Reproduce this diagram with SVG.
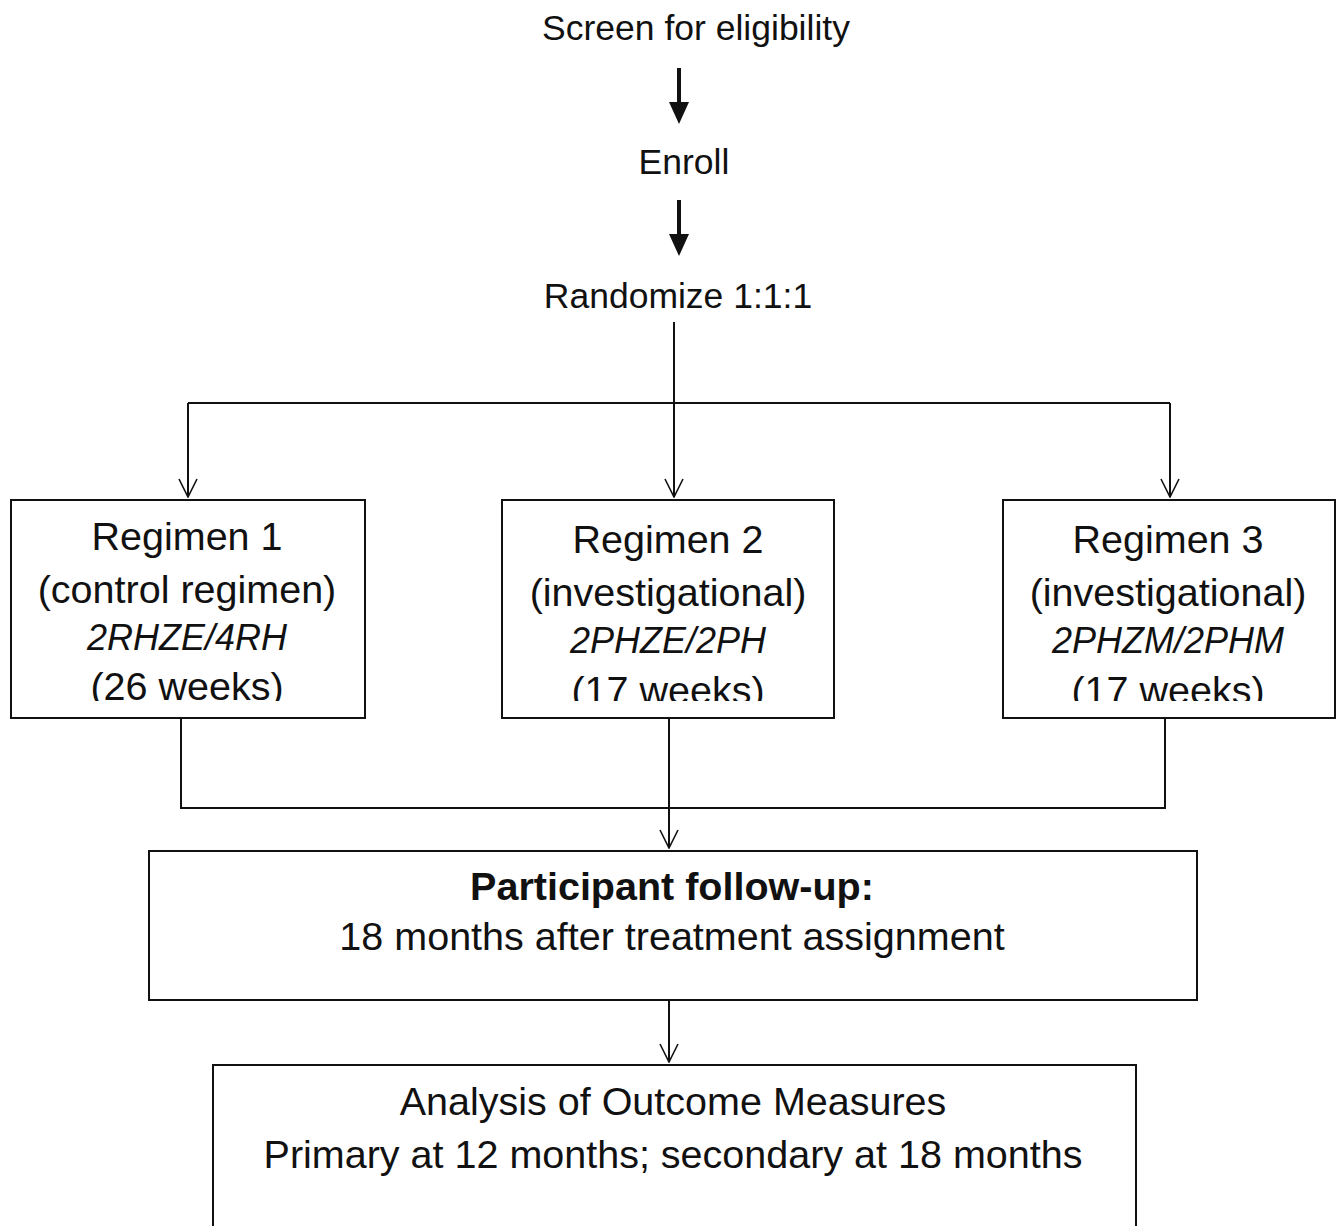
<svg xmlns="http://www.w3.org/2000/svg" width="1342" height="1226" viewBox="0 0 1342 1226">
<style>
text{font-family:"Liberation Sans",Arial,sans-serif;fill:#111;text-anchor:middle}
.t{font-size:35.5px}
.b{font-size:39.5px}
.i{font-style:italic;font-size:36px}
.f{font-size:39.5px}
.bold{font-weight:bold}
.box{fill:#fff;stroke:#111;stroke-width:2}
.ln{fill:none;stroke:#111;stroke-width:2}
.thick{fill:none;stroke:#111;stroke-width:4}
</style>
<defs>
<marker id="v" viewBox="0 0 20 20" refX="19" refY="10" markerWidth="20" markerHeight="20" markerUnits="userSpaceOnUse" orient="auto">
<path d="M1,1 L19,10 L1,19" fill="none" stroke="#111" stroke-width="1.6"/>
</marker>
<clipPath id="c"><rect x="0" y="0" width="1342" height="701"/></clipPath>
</defs>
<g id="connectors">
<path class="thick" d="M679,68 V104" />
<path d="M669,102 L689,102 L679,124 Z" fill="#111"/>
<path class="thick" d="M679,200 V236" />
<path d="M669,234 L689,234 L679,256 Z" fill="#111"/>
<path class="ln" d="M674,322 V497" marker-end="url(#v)"/>
<path class="ln" d="M188,403 H1170"/>
<path class="ln" d="M188,403 V497" marker-end="url(#v)"/>
<path class="ln" d="M1170,403 V497" marker-end="url(#v)"/>
<path class="ln" d="M181,718 V808 H1165 V718"/>
<path class="ln" d="M669,718 V848" marker-end="url(#v)"/>
<path class="ln" d="M669,1000 V1062" marker-end="url(#v)"/>
</g>
<g id="screen"><text class="t" x="696" y="40">Screen for eligibility</text></g>
<g id="enroll"><text class="t" x="684" y="174">Enroll</text></g>
<g id="randomize"><text class="t" x="678" y="308">Randomize 1:1:1</text></g>
<g id="regimen1">
<rect class="box" x="11" y="500" width="354" height="218"/>
<g clip-path="url(#c)">
<text class="b" x="187" y="550">Regimen 1</text>
<text class="b" x="187" y="603">(control regimen)</text>
<text class="i" x="187" y="650">2RHZE/4RH</text>
<text class="b" x="187" y="700">(26 weeks)</text>
</g>
</g>
<g id="regimen2">
<rect class="box" x="502" y="500" width="332" height="218"/>
<g clip-path="url(#c)">
<text class="b" x="668" y="553">Regimen 2</text>
<text class="b" x="668" y="606">(investigational)</text>
<text class="i" x="668" y="653">2PHZE/2PH</text>
<text class="b" x="668" y="704">(17 weeks)</text>
</g>
</g>
<g id="regimen3">
<rect class="box" x="1003" y="500" width="332" height="218"/>
<g clip-path="url(#c)">
<text class="b" x="1168" y="553">Regimen 3</text>
<text class="b" x="1168" y="606">(investigational)</text>
<text class="i" x="1168" y="653">2PHZM/2PHM</text>
<text class="b" x="1168" y="704">(17 weeks)</text>
</g>
</g>
<g id="followup">
<rect class="box" x="149" y="851" width="1048" height="149"/>
<text class="f bold" x="672" y="900">Participant follow-up:</text>
<text class="f" x="672" y="950">18 months after treatment assignment</text>
</g>
<g id="analysis">
<rect class="box" x="213" y="1065" width="923" height="170"/>
<text class="f" x="673" y="1115">Analysis of Outcome Measures</text>
<text class="f" x="673" y="1168">Primary at 12 months; secondary at 18 months</text>
</g>
</svg>
